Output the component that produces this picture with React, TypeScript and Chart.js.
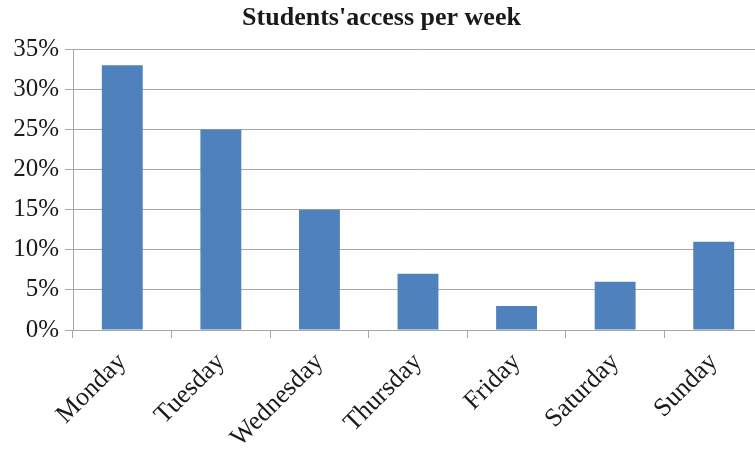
import React, { useEffect, useRef } from "react";
import { Chart, registerables } from "chart.js";

Chart.register(...registerables);

const titleText = "Students'access per week";
const days = ["Monday", "Tuesday", "Wednesday", "Thursday", "Friday", "Saturday", "Sunday"];
const accessPercent = [33, 25, 15, 7, 3, 6, 11];
const yMin = 0;
const yMax = 35;
const yStep = 5;

const BAR_COLOR = "#4F81BD";
const GRID_COLOR = "#a6a6a6";
const TEXT_COLOR = "#1a1a1a";
const FONT = "'Liberation Serif', 'Times New Roman', serif";

export default function App() {
  const canvasRef = useRef<HTMLCanvasElement | null>(null);

  useEffect(() => {
    const canvas = canvasRef.current;
    if (!canvas) return;
    const chart = new Chart(canvas, {
      type: "bar",
      data: {
        labels: days,
        datasets: [
          {
            label: "Access",
            data: accessPercent,
            backgroundColor: BAR_COLOR,
            borderWidth: 0,
            barPercentage: 0.415,
            categoryPercentage: 1,
          },
        ],
      },
      options: {
        responsive: false,
        animation: false,
        layout: { padding: { left: 0, right: 0, top: 0, bottom: 0 } },
        plugins: {
          legend: { display: false },
          tooltip: { enabled: false },
          title: {
            display: true,
            text: titleText,
            color: TEXT_COLOR,
            font: { family: FONT, size: 26, weight: "bold" },
            padding: { top: 3, bottom: 15 },
          },
        },
        scales: {
          x: {
            grid: {
              display: true,
              offset: true,
              drawOnChartArea: false,
              drawTicks: true,
              tickLength: 8,
              color: GRID_COLOR,
              lineWidth: 1,
            },
            border: { display: true, color: GRID_COLOR, width: 1 },
            ticks: {
              color: TEXT_COLOR,
              font: { family: FONT, size: 26 },
              minRotation: 45,
              maxRotation: 45,
              autoSkip: false,
              padding: 9,
            },
            afterFit: (scale: any) => {
              scale.height = 121;
            },
          },
          y: {
            min: yMin,
            max: yMax,
            grid: {
              color: GRID_COLOR,
              lineWidth: 1,
              drawTicks: true,
              tickLength: 8,
            },
            border: { display: true, color: GRID_COLOR, width: 1 },
            ticks: {
              stepSize: yStep,
              color: TEXT_COLOR,
              font: { family: FONT, size: 25 },
              padding: 6,
              callback: (v: any) => `${v}%`,
            },
            afterFit: (scale: any) => {
              scale.width = 73;
            },
          },
        },
      },
    });
    return () => chart.destroy();
  }, []);

  return (
    <div
      style={{
        position: "fixed",
        left: 0,
        top: 0,
        width: 755,
        height: 451,
        overflow: "hidden",
        background: "#ffffff",
      }}
    >
      <canvas ref={canvasRef} width={763} height={451} style={{ display: "block" }} />
    </div>
  );
}
